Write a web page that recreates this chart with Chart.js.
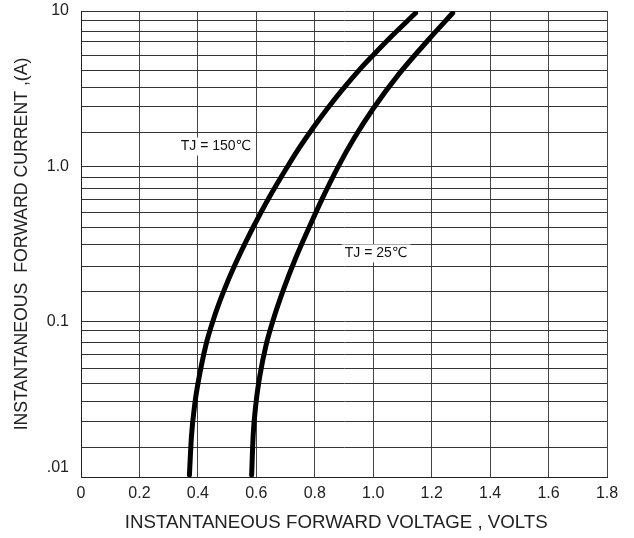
<!DOCTYPE html>
<html>
<head>
<meta charset="utf-8">
<script src="https://cdn.jsdelivr.net/npm/chart.js@4/dist/chart.umd.min.js"></script>
<style>
  html, body { margin: 0; padding: 0; background: #fff; }
  #wrap { width: 634px; height: 538px; }
</style>
</head>
<body>
<div id="wrap"><canvas id="vfChart" width="634" height="538"></canvas></div>
<script>
// Forward voltage (V) / forward current (A)
const tj150Volts = [0.371, 0.378, 0.390, 0.401, 0.427, 0.454, 0.487, 0.526, 0.581, 0.603, 0.652, 0.703, 0.745, 0.797, 0.842, 0.896, 0.954, 1.002, 1.068, 1.145];
const tj150Amps  = [0.0103, 0.0183, 0.0301, 0.0407, 0.0702, 0.1045, 0.155, 0.231, 0.379, 0.455, 0.670, 0.971, 1.30, 1.80, 2.34, 3.14, 4.21, 5.25, 7.03, 9.71];

const tj25Volts = [0.584, 0.589, 0.599, 0.612, 0.633, 0.659, 0.694, 0.734, 0.779, 0.826, 0.877, 0.934, 0.999, 1.087, 1.189, 1.272];
const tj25Amps  = [0.0103, 0.0183, 0.0301, 0.0448, 0.0702, 0.1045, 0.163, 0.255, 0.398, 0.622, 0.971, 1.51, 2.34, 3.91, 6.53, 9.71];

// x axis ticks
const xTickValues = [0, 0.2, 0.4, 0.6, 0.8, 1.0, 1.2, 1.4, 1.6, 1.8];
const xTickLabels = ['0', '0.2', '0.4', '0.6', '0.8', '1.0', '1.2', '1.4', '1.6', '1.8'];

// horizontal grid lines as printed on the sheet (not a regular log grid)
const yGridTop = [10, 8.64, 7.35, 6.35, 5.17, 4.15, 3.23, 2.41, 1.65];
const yGridMid = [1, 0.849, 0.721, 0.612, 0.505, 0.404, 0.314, 0.226, 0.156];
const yGridLow = [0.1, 0.0874, 0.0731, 0.0611, 0.0503, 0.0402, 0.0307, 0.0228, 0.0154, 0.01];
const yLabelValues = [10, 1, 0.1, 0.01];
const yLabelTexts = ['10', '1.0', '0.1', '.01'];

// curve notes
const noteTexts = ['TJ = 150\u2103', 'TJ = 25\u2103'];
const noteVolts = [0.462, 1.01];
const noteAmps = [1.34, 0.275];

const FONT = "'Liberation Sans', Arial, 'DejaVu Sans', sans-serif";

function toPoints(xs, ys) {
  return xs.map((v, i) => ({ x: v, y: ys[i] }));
}

// white-boxed text labels next to the curves
const notesPlugin = {
  id: 'curveNotes',
  beforeDatasetsDraw(chart) {
    const { ctx, scales } = chart;
    ctx.save();
    ctx.font = '14px ' + FONT;
    ctx.textAlign = 'center';
    ctx.textBaseline = 'middle';
    noteTexts.forEach((txt, i) => {
      const px = scales.x.getPixelForValue(noteVolts[i]);
      const py = scales.y.getPixelForValue(noteAmps[i]);
      const w = ctx.measureText(txt).width;
      ctx.fillStyle = '#fff';
      ctx.fillRect(px - w / 2 - 3, py - 9, w + 6, 18);
      ctx.fillStyle = '#111';
      ctx.fillText(txt, px, py);
    });
    ctx.restore();
  }
};

function curve(label, xs, ys) {
  return {
    label: label,
    data: toPoints(xs, ys),
    borderColor: '#000',
    borderWidth: 5,
    borderCapStyle: 'round',
    pointRadius: 0,
    cubicInterpolationMode: 'monotone',
    fill: false
  };
}

const ctx = document.getElementById('vfChart').getContext('2d');
const chart = new Chart(ctx, {
  type: 'line',
  data: {
    datasets: [
      curve('TJ = 150\u2103', tj150Volts, tj150Amps),
      curve('TJ = 25\u2103', tj25Volts, tj25Amps)
    ]
  },
  options: {
    responsive: false,
    animation: false,
    layout: { padding: { left: 0, top: 11, right: 27, bottom: 0 } },
    plugins: {
      legend: { display: false },
      tooltip: { enabled: false }
    },
    scales: {
      x: {
        type: 'linear',
        min: 0,
        max: 1.8,
        afterBuildTicks: (scale) => {
          scale.ticks = xTickValues.map(v => ({ value: v }));
        },
        afterFit: (scale) => { scale.height = 61; },
        ticks: {
          color: '#222',
          font: { family: FONT, size: 16 },
          padding: 7,
          maxRotation: 0,
          autoSkip: false,
          callback: (value, index) => xTickLabels[index]
        },
        grid: { color: '#444', lineWidth: 1, drawTicks: false },
        border: { color: '#222', width: 1 },
        title: {
          display: true,
          // trailing spaces nudge the centred title a little to the left, as on the sheet
          text: 'INSTANTANEOUS FORWARD VOLTAGE , VOLTS   ',
          color: '#222',
          font: { family: FONT, size: 18.7 },
          padding: { top: 0, bottom: 4 }
        }
      },
      y: {
        type: 'logarithmic',
        min: 0.01,
        max: 10,
        afterBuildTicks: (scale) => {
          const vals = yGridLow.concat(yGridMid, yGridTop).sort((a, b) => a - b);
          scale.ticks = vals.map(v => ({ value: v }));
        },
        afterFit: (scale) => {
          scale.width = 81;
          // keep the plot top where the sheet has it
          scale.paddingTop = 0;
          scale.paddingBottom = 0;
        },
        ticks: {
          color: '#222',
          font: { family: FONT, size: 16 },
          padding: 12,
          autoSkip: false,
          callback: (value) => {
            const k = yLabelValues.indexOf(value);
            if (k < 0) return '';
            // the ".01" label sits a bit above the bottom line on the sheet
            return value === 0.01 ? [yLabelTexts[k], ''] : yLabelTexts[k];
          }
        },
        grid: { color: '#333', lineWidth: 1, drawTicks: false },
        border: { color: '#222', width: 1 },
        title: {
          display: true,
          text: 'INSTANTANEOUS  FORWARD CURRENT ,(A)',
          color: '#222',
          font: { family: FONT, size: 17.7 },
          padding: { top: 11, bottom: 0 }
        }
      }
    }
  },
  plugins: [notesPlugin]
});
</script>
</body>
</html>
